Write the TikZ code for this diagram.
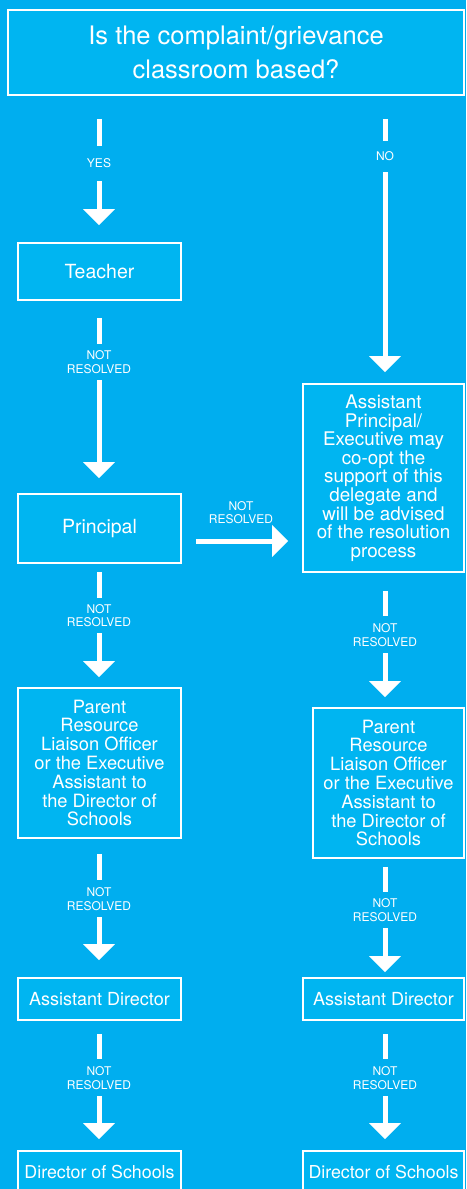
\documentclass[tikz,border=0pt]{standalone}
\usepackage{fontspec}
\setmainfont{TeX Gyre Heros}
\usetikzlibrary{arrows.meta}
\definecolor{bgblue}{RGB}{0,174,239}
\definecolor{boxblue}{RGB}{0,181,241}
\begin{document}
\begin{tikzpicture}[x=1pt,y=-1pt,
  box/.style={draw=white, line width=1.8pt, fill=boxblue, text=white, align=center, inner sep=0pt},
  lab/.style={text=white, align=center, font=\fontsize{12}{13.5}\selectfont, inner sep=0pt},
  bar/.style={draw=white, line width=5pt},
  arr/.style={draw=white, line width=5pt, -{Triangle[width=31pt,length=16pt]}}]
\clip (0,0) rectangle (466,1189);
\fill[bgblue] (0,0) rectangle (466,1189);

% boxes
\node[box, minimum width=456pt, minimum height=85pt, font=\fontsize{25.5}{34}\selectfont] (top) at (236,52.5) {Is the complaint/grievance\\classroom based?};
\node[box, minimum width=163pt, minimum height=57pt, font=\fontsize{19.5}{22}\selectfont] (teacher) at (99.5,271.5) {Teacher};
\node[box, minimum width=163pt, minimum height=69pt, font=\fontsize{19.5}{22}\selectfont] (principal) at (99.5,528.5) {Principal};
\node[box, minimum width=161pt, minimum height=188pt, font=\fontsize{18.8}{18.6}\selectfont] (ap) at (383.5,478) {Assistant\\Principal/\\Executive may\\co-opt the\\support of this\\delegate and\\will be advised\\of the resolution\\process};
\node[box, minimum width=163pt, minimum height=150pt, font=\fontsize{18.3}{18.8}\selectfont] (parL) at (99.5,763) {Parent\\Resource\\Liaison Officer\\or the Executive\\Assistant to\\the Director of\\Schools};
\node[box, minimum width=151pt, minimum height=150pt, font=\fontsize{18.3}{18.8}\selectfont] (parR) at (388.5,783) {Parent\\Resource\\Liaison Officer\\or the Executive\\Assistant to\\the Director of\\Schools};
\node[box, minimum width=163pt, minimum height=42pt, font=\fontsize{18}{20}\selectfont] (adL) at (99.5,999) {Assistant Director};
\node[box, minimum width=161pt, minimum height=42pt, font=\fontsize{18}{20}\selectfont] (adR) at (383.5,999) {Assistant Director};
\node[box, minimum width=163pt, minimum height=42pt, font=\fontsize{17.8}{20}\selectfont] (dosL) at (99.5,1172) {Director of Schools};
\node[box, minimum width=161pt, minimum height=42pt, font=\fontsize{17.8}{20}\selectfont] (dosR) at (383.5,1172) {Director of Schools};

% labels
\node[lab] (yes) at (99,163) {YES};
\node[lab] (no) at (385,156) {NO};
\node[lab] (l2) at (99,362) {NOT\\RESOLVED};
\node[lab] (l3) at (99,615.5) {NOT\\RESOLVED};
\node[lab] (l4) at (99,899) {NOT\\RESOLVED};
\node[lab] (l5) at (99,1078) {NOT\\RESOLVED};
\node[lab] (r2) at (385,635) {NOT\\RESOLVED};
\node[lab] (r3) at (385,910) {NOT\\RESOLVED};
\node[lab] (r4) at (385,1078) {NOT\\RESOLVED};
\node[lab] (h) at (241,512.5) {NOT\\RESOLVED};

% left column
\draw[bar, shorten <=23pt, shorten >=17pt] (top.south -| yes) -- (yes.center);
\draw[arr, shorten <=18pt, shorten >=17pt] (yes.center) -- (yes |- teacher.north);
\draw[bar, shorten <=17pt, shorten >=18pt] (teacher.south -| l2) -- (l2.center);
\draw[arr, shorten <=18pt, shorten >=15pt] (l2.center) -- (l2 |- principal.north);
\draw[bar, shorten <=8pt, shorten >=17.5pt] (principal.south -| l3) -- (l3.center);
\draw[arr, shorten <=17.5pt, shorten >=10pt] (l3.center) -- (l3 |- parL.north);
\draw[bar, shorten <=15pt, shorten >=19pt] (parL.south -| l4) -- (l4.center);
\draw[arr, shorten <=18pt, shorten >=17pt] (l4.center) -- (l4 |- adL.north);
\draw[bar, shorten <=13pt, shorten >=19pt] (adL.south -| l5) -- (l5.center);
\draw[arr, shorten <=18pt, shorten >=11pt] (l5.center) -- (l5 |- dosL.north);

% right column
\draw[bar, shorten <=23pt, shorten >=15pt] (top.south -| no) -- (no.center);
\draw[arr, shorten <=16pt, shorten >=11pt] (no.center) -- (no |- ap.north);
\draw[bar, shorten <=18pt, shorten >=19pt] (ap.south -| r2) -- (r2.center);
\draw[arr, shorten <=18pt, shorten >=10pt] (r2.center) -- (r2 |- parR.north);
\draw[bar, shorten <=8pt, shorten >=18pt] (parR.south -| r3) -- (r3.center);
\draw[arr, shorten <=18pt, shorten >=5pt] (r3.center) -- (r3 |- adR.north);
\draw[bar, shorten <=13pt, shorten >=19pt] (adR.south -| r4) -- (r4.center);
\draw[arr, shorten <=18pt, shorten >=11pt] (r4.center) -- (r4 |- dosR.north);

% horizontal
\draw[arr, shorten <=14pt, shorten >=14pt] ([yshift=-12.5pt]principal.east) -- ([yshift=-12.5pt]principal.east -| ap.west);
\end{tikzpicture}
\end{document}
